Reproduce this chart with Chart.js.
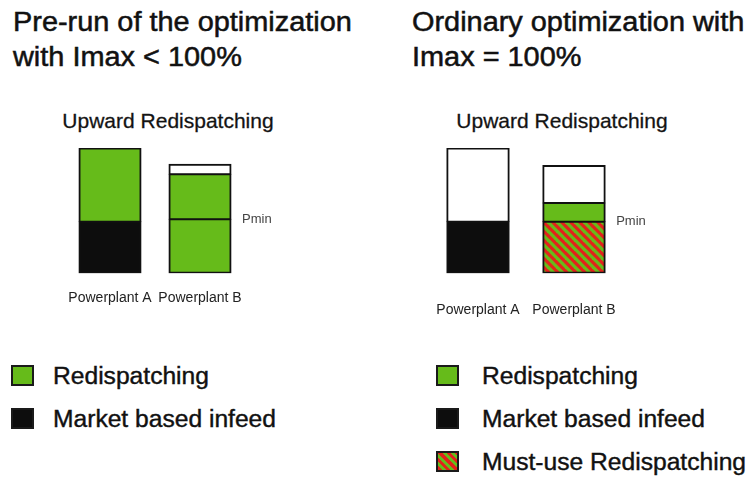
<!DOCTYPE html>
<html>
<head>
<meta charset="utf-8">
<script src="https://cdn.jsdelivr.net/npm/chart.js@4/dist/chart.umd.min.js"></script>
<style>
  body { margin: 0; background: #fff; }
  #page { position: relative; width: 752px; height: 480px; overflow: hidden;
          font-family: "Liberation Sans", Arial, sans-serif; color: #111; }
  .title { position: absolute; top: 5px; font-size: 27px; line-height: 35px;
           white-space: nowrap; transform: scaleX(1.07); transform-origin: 0 0;
           -webkit-text-stroke: 0.5px #111; }
  .sub { position: absolute; top: 110px; width: 240px; text-align: center;
         font-size: 21px; line-height: 21px; white-space: nowrap; -webkit-text-stroke: 0.3px #222; }
  .item { position: absolute; height: 23px; font-size: 23px; line-height: 23px; white-space: nowrap;
          -webkit-text-stroke: 0.4px #111; }
  .item span { display: inline-block; transform: scaleX(1.07); transform-origin: 0 0; }
  .sw { position: absolute; width: 19px; height: 17px; border: 2px solid #1a1a1a; }
  canvas { position: absolute; }
</style>
</head>
<body>
<div id="page">
  <div class="title" style="left:13px">Pre-run of the optimization<br>with Imax &lt; 100%</div>
  <div class="title" style="left:412px">Ordinary optimization with<br>Imax = 100%</div>
  <div class="sub" style="left:48px">Upward Redispatching</div>
  <div class="sub" style="left:442px">Upward Redispatching</div>
  <canvas id="preChart" width="330" height="198" style="left:0;top:140px"></canvas>
  <canvas id="ordChart" width="376" height="210" style="left:376px;top:140px"></canvas>
  <div id="legends"></div>
</div>
<script>
// ===== Data =====
const categories = ["Powerplant A", "Powerplant B"];

// pre-run (Imax < 100%)
const preMarket     = [41, null];
const preBelowPmin  = [null, 43];
const preRedispatch = [59, 36];
const preHeadroom   = [null, 8];
const prePmin       = [null, 43];

// ordinary optimization (Imax = 100%)
const ordMarket     = [41, null];
const ordMustUse    = [null, 41];
const ordRedispatch = [null, 15];
const ordHeadroom   = [59, 30];
const ordPmin       = [null, 41];

const preLegend = ["Redispatching", "Market based infeed"];
const ordLegend = ["Redispatching", "Market based infeed", "Must-use Redispatching"];

// ===== Styles =====
const GREEN = "#66bb1a";
const RED = "#e2231b";
const BLACK = "#0d0d0d";
const FONT = "'Liberation Sans', Arial, sans-serif";

function hatch() {
  const s = 9;
  const c = document.createElement("canvas");
  c.width = c.height = s;
  const g = c.getContext("2d");
  g.fillStyle = RED;
  g.fillRect(0, 0, s, s);
  g.strokeStyle = GREEN;
  g.lineWidth = s / (2 * Math.SQRT2);
  for (const k of [-s, 0, s]) {
    g.beginPath();
    g.moveTo(k - 1, -1);
    g.lineTo(k + s + 1, s + 1);
    g.stroke();
  }
  return g.createPattern(c, "repeat");
}

// outer outline 2px, dividers 1.5px each side (overlapping via inflate)
function edgeWidth(ctx) {
  const sets = ctx.chart.data.datasets, i = ctx.dataIndex, d = ctx.datasetIndex;
  const has = s => s.data[i] != null;
  const above = sets.slice(d + 1).some(has);
  const below = sets.slice(0, d).some(has);
  return { left: 2, right: 2, top: above ? 1.5 : 2, bottom: below ? 1.5 : 2 };
}

// "Pmin" label next to the bar, at the Pmin value
const pminLabel = {
  id: "pmin",
  afterDatasetsDraw(chart, args, opts) {
    const ctx = chart.ctx, y = chart.scales.y, x = chart.scales.x;
    opts.levels.forEach((lvl, i) => {
      if (lvl == null) return;
      const bar = chart.getDatasetMeta(chart.data.datasets.length - 1).data[i];
      const right = x.getPixelForValue(i) + bar.width / 2;
      ctx.save();
      ctx.font = "13px " + FONT;
      ctx.fillStyle = "#444";
      ctx.textBaseline = "middle";
      ctx.fillText("Pmin", right + 11, y.getPixelForValue(lvl));
      ctx.restore();
    });
  }
};

function makeChart(id, datasets, levels, pad, barPct, tickPad) {
  return new Chart(document.getElementById(id), {
    type: "bar",
    data: { labels: categories, datasets },
    options: {
      responsive: false,
      animation: false,
      layout: { padding: pad },
      datasets: {
        bar: {
          categoryPercentage: 1,
          barPercentage: barPct,
          borderColor: "#111",
          borderWidth: edgeWidth,
          borderSkipped: false,
          inflateAmount: 0.5
        }
      },
      plugins: {
        legend: { display: false },
        tooltip: { enabled: false },
        pmin: { levels }
      },
      scales: {
        x: {
          stacked: true,
          grid: { display: false, drawTicks: false },
          border: { display: false },
          ticks: { color: "#222", padding: tickPad, maxRotation: 0, autoSkip: false,
                   font: { family: FONT, size: 14 } }
        },
        y: { stacked: true, display: false, min: 0, max: 100 }
      }
    },
    plugins: [pminLabel]
  });
}

makeChart("preChart", [
  { label: "Market based infeed", data: preMarket, backgroundColor: BLACK },
  { label: "Redispatching", data: preBelowPmin, backgroundColor: GREEN },
  { label: "Redispatching", data: preRedispatch, backgroundColor: GREEN },
  { label: "Headroom", data: preHeadroom, backgroundColor: "#fff" }
], prePmin, { left: 65, right: 85, top: 8, bottom: 14 }, 0.69, 17);

makeChart("ordChart", [
  { label: "Market based infeed", data: ordMarket, backgroundColor: BLACK },
  { label: "Must-use Redispatching", data: ordMustUse, backgroundColor: hatch() },
  { label: "Redispatching", data: ordRedispatch, backgroundColor: GREEN },
  { label: "Headroom", data: ordHeadroom, backgroundColor: "#fff" }
], ordPmin, { left: 54, right: 130, top: 8, bottom: 2 }, 0.65, 29);

// ===== Legends =====
const swatch = {
  "Redispatching": GREEN,
  "Market based infeed": BLACK,
  "Must-use Redispatching": "repeating-linear-gradient(45deg," + RED + " 0 3px," + GREEN + " 3px 6px)"
};
const baselines = [384, 427, 470];
function legend(names, sx, tx) {
  const box = document.getElementById("legends");
  names.forEach((name, r) => {
    const b = baselines[r];
    box.insertAdjacentHTML("beforeend",
      `<div class="sw" style="left:${sx}px;top:${b - 19}px;background:${swatch[name]}"></div>` +
      `<div class="item" style="left:${tx}px;top:${b - 19.5}px"><span>${name}</span></div>`);
  });
}
legend(preLegend, 11, 53);
legend(ordLegend, 436, 482);
</script>
</body>
</html>
